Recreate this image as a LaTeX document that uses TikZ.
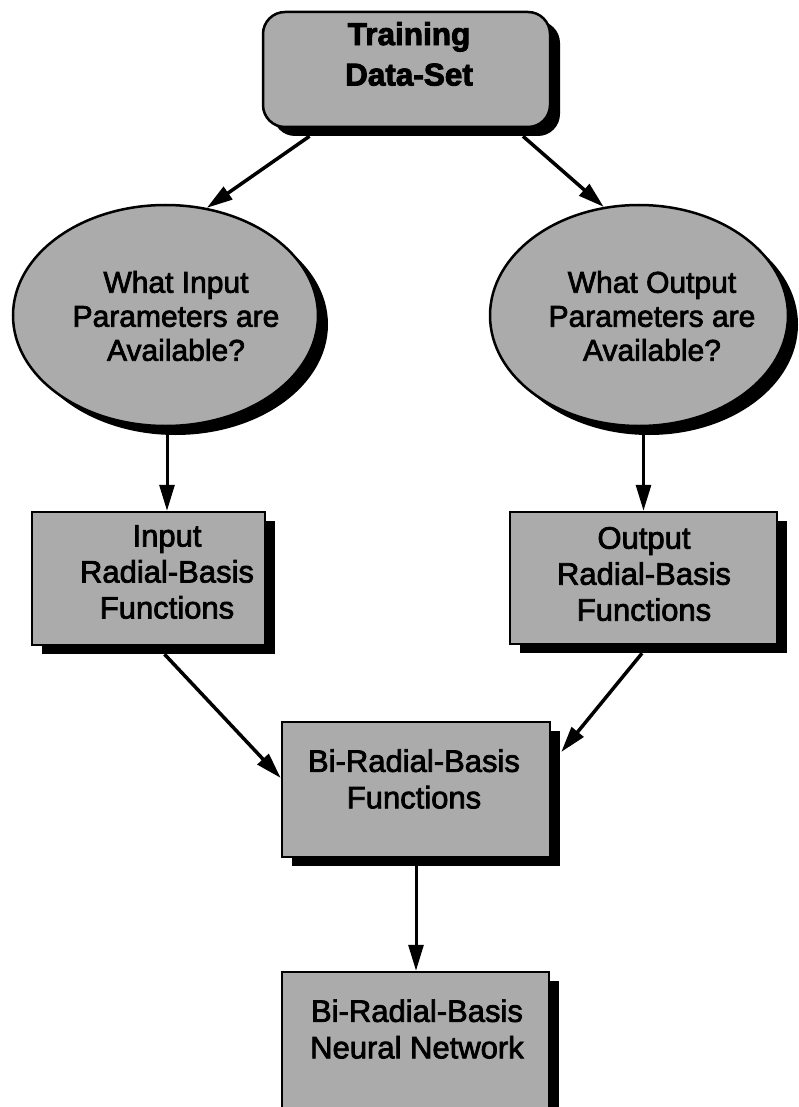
\documentclass[tikz,border=0pt]{standalone}
\usepackage{fontspec}
\setmainfont{Liberation Sans}
\newfontfamily\heavyfont[FakeBold=2.4]{Liberation Sans}
\newfontfamily\heavierfont[FakeBold=2.8]{Liberation Sans Bold}
\usetikzlibrary{arrows.meta,shadows,calc,shapes.geometric}
\begin{document}
\begin{tikzpicture}[x=1pt,y=-1pt,
  shadeshape/.style={fill=black!33, draw=black, line width=2.5pt, inner sep=0pt,
    drop shadow={shadow xshift=10pt,shadow yshift=-9pt,opacity=1,fill=black}},
  boxshape/.style={shadeshape, rectangle},
  ovalshape/.style={shadeshape, ellipse},
  lbl/.style={align=center, inner sep=0pt, font=\heavyfont\fontsize{31}{36.5}\selectfont},
  ovallbl/.style={align=center, inner sep=0pt, font=\heavyfont\fontsize{30}{34}\selectfont},
  conn/.style={line width=3.5pt, -{Triangle[length=26pt,width=15pt]}},
  vconn/.style={line width=3pt, -{Triangle[length=26pt,width=15pt]}},
]
\useasboundingbox (0,0) rectangle (799,1107);
\clip (0,0) rectangle (799,1107);

% shapes
\node[shadeshape, rectangle, rounded corners=22pt, minimum width=287pt, minimum height=115pt] (tb) at (406.5,69.5) {};
\node[ovalshape, minimum width=305pt, minimum height=221pt] (e1) at (165.5,315.5) {};
\node[ovalshape, minimum width=298pt, minimum height=221pt] (e2) at (639,315.5) {};
\node[boxshape, minimum width=233pt, minimum height=133pt] (ib) at (148.5,578.5) {};
\node[boxshape, minimum width=267pt, minimum height=132pt] (ob) at (643.5,578) {};
\node[boxshape, minimum width=268pt, minimum height=135pt] (bi) at (416,789.5) {};
\node[boxshape, minimum width=267pt, minimum height=176pt] (bb) at (415.5,1060) {};

% texts
\node[lbl, font=\heavierfont\fontsize{31.5}{40.5}\selectfont] (tbt) at (409,54) {Training\\Data-Set};
\node[ovallbl] (e1t) at (176,316) {What Input\\Parameters are\\Available?};
\node[ovallbl] (e2t) at (652,316) {What Output\\Parameters are\\Available?};
\node[lbl, font=\heavyfont\fontsize{31}{36}\selectfont] (ibt) at (167,572) {Input\\Radial-Basis\\Functions};
\node[lbl, font=\heavyfont\fontsize{31}{36}\selectfont] (obt) at (644,574) {Output\\Radial-Basis\\Functions};
\node[lbl] (bit) at (414,779) {Bi-Radial-Basis\\Functions};
\node[lbl] (bbt) at (417,1029) {Bi-Radial-Basis\\Neural Network};

% connectors
\coordinate (a1) at ($(e1.south)+(1.5,0)$);
\coordinate (a2) at (e2.south -| ob.north);
\draw[conn] ([xshift=-97pt,yshift=-8pt]tb.south) -- (e1.69);
\draw[conn] ([xshift=116.5pt,yshift=-8pt]tb.south) -- (e2.108);
\draw[vconn] (a1) -- (a1 |- ib.north);
\draw[vconn] (a2) -- (ob.north);
\draw[conn] ([xshift=16pt,yshift=-8pt]ib.south) -- ([yshift=11.5pt]bi.west);
\draw[conn] ([xshift=-1.5pt,yshift=-8pt]ob.south) -- ([xshift=10pt,yshift=37.5pt]bi.east);
\draw[vconn] (bi.south) -- (bi.south |- bb.north);
\end{tikzpicture}
\end{document}
